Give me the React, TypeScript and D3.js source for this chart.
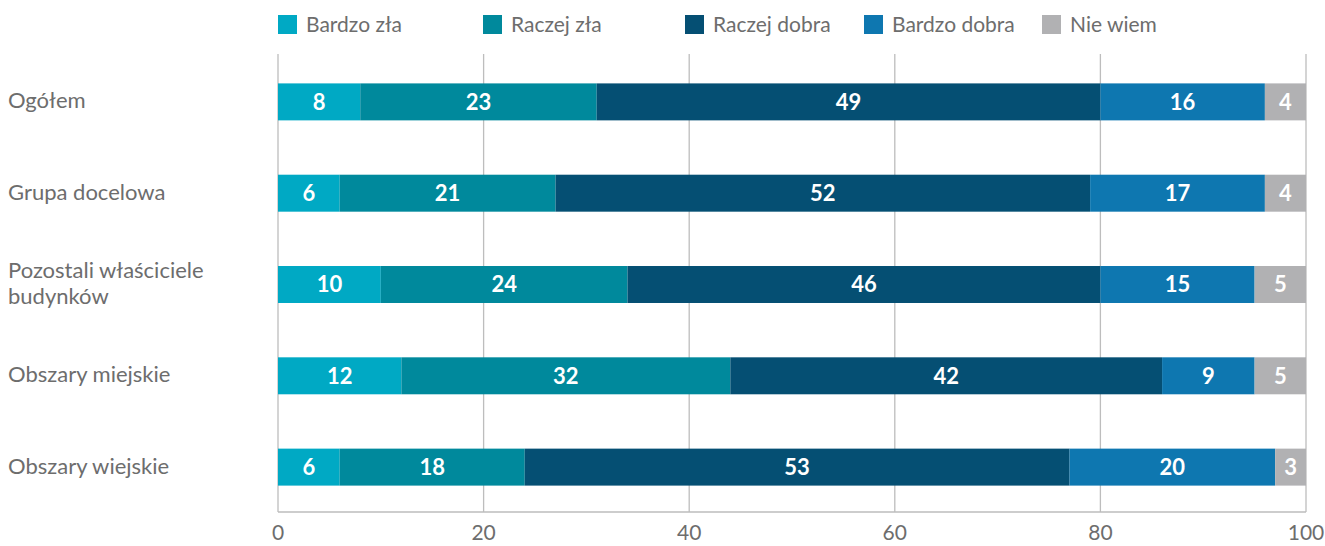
import React from "react";
import * as d3 from "d3";

const categories = ["Ogółem", "Grupa docelowa", "Pozostali właściciele budynków", "Obszary miejskie", "Obszary wiejskie"];
const categoryLines = [["Ogółem"], ["Grupa docelowa"], ["Pozostali właściciele", "budynków"], ["Obszary miejskie"], ["Obszary wiejskie"]];
const seriesNames = ["Bardzo zła", "Raczej zła", "Raczej dobra", "Bardzo dobra", "Nie wiem"];
const seriesColors = ["#00A9C4", "#00899C", "#054F73", "#0E77B0", "#B1B1B3"];
const bardzoZla = [8, 6, 10, 12, 6];
const raczejZla = [23, 21, 24, 32, 18];
const raczejDobra = [49, 52, 46, 42, 53];
const bardzoDobra = [16, 17, 15, 9, 20];
const nieWiem = [4, 4, 5, 5, 3];
const xTicks = [0, 20, 40, 60, 80, 100];

const seriesValues = [bardzoZla, raczejZla, raczejDobra, bardzoDobra, nieWiem];

export default function App() {
  const W = 1325, H = 546;
  const left = 278, right = 1306;
  const gridTop = 54, axisY = 512;
  const x = d3.scaleLinear().domain([0, 100]).range([left, right]);
  const y = d3.scaleBand<string>().domain(categories).range([56, 513]).paddingInner(0.595).paddingOuter(0.3);

  const rows = categories.map((c, i) => {
    const obj: any = { cat: c };
    seriesNames.forEach((s, j) => (obj[s] = seriesValues[j][i]));
    return obj;
  });
  const stacked = d3.stack<any>().keys(seriesNames)(rows);
  const font = "Lato, 'Open Sans', sans-serif";
  const legendX = [278, 483, 685, 864, 1042];

  return (
    <svg width={W} height={H} style={{ position: "absolute", left: 0, top: 0, fontFamily: font }}>
      {xTicks.map((t) => (
        <line key={t} x1={x(t)} x2={x(t)} y1={gridTop} y2={axisY} stroke="#BDBDBD" strokeWidth={1.3} />
      ))}
      {stacked.map((layer, j) => (
        <g key={layer.key}>
          {layer.map((d, i) => {
            const x0 = x(d[0]), x1 = x(d[1]);
            const yy = y(categories[i])!;
            return (
              <g key={i}>
                <rect x={x0} y={yy} width={x1 - x0} height={y.bandwidth()} fill={seriesColors[j]} />
                <text x={(x0 + x1) / 2} y={yy + y.bandwidth() / 2} dy="0.36em" textAnchor="middle" fill="#fff" fontSize={22} fontWeight={700}>
                  {d[1] - d[0]}
                </text>
              </g>
            );
          })}
        </g>
      ))}
      <line x1={left} x2={right} y1={axisY} y2={axisY} stroke="#BDBDBD" strokeWidth={1.3} />
      {xTicks.map((t) => (
        <text key={t} x={x(t)} y={540} textAnchor="middle" fill="#6D6D6D" fontSize={21}>{t}</text>
      ))}
      {categoryLines.map((lines, i) => {
        const cy = y(categories[i])! + y.bandwidth() / 2;
        const lh = 26.5;
        const start = cy - ((lines.length - 1) * lh) / 2;
        return (
          <text key={i} x={8} fill="#6D6D6D" fontSize={22}>
            {lines.map((l, k) => (
              <tspan key={k} x={8} y={start + k * lh} dy="0.3em">{l}</tspan>
            ))}
          </text>
        );
      })}
      {seriesNames.map((s, j) => (
        <g key={s}>
          <rect x={legendX[j]} y={15} width={19} height={19} fill={seriesColors[j]} />
          <text x={legendX[j] + 28} y={24.5} dy="0.36em" fill="#6D6D6D" fontSize={21}>{s}</text>
        </g>
      ))}
    </svg>
  );
}
